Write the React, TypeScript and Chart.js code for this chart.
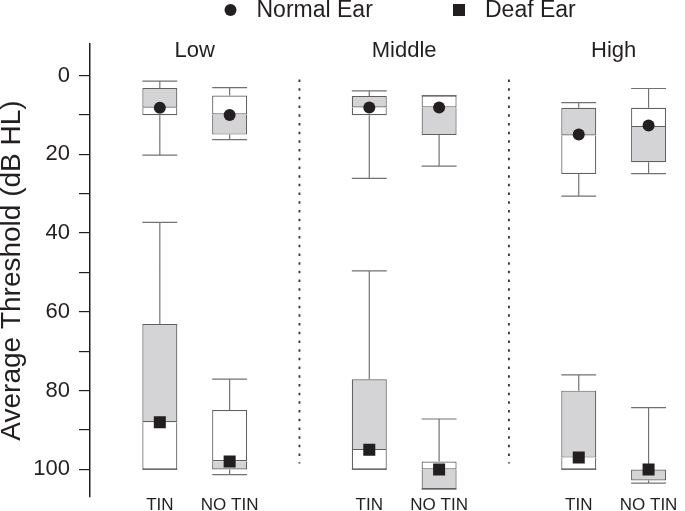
import React, { useEffect, useRef } from 'react';
import { Chart, registerables } from 'chart.js';

Chart.register(...registerables);

// ---- data (order: Low TIN, Low NO TIN, Middle TIN, Middle NO TIN, High TIN, High NO TIN)
const groups = ['Low', 'Middle', 'High'];
const conditions = ['TIN', 'NO TIN'];
const seriesNames = ['Normal Ear', 'Deaf Ear'];

const normalMin = [1.4, 3.1, 3.9, 5.1, 6.9, 3.3];
const normalQ1 = [3.2, 5.1, 5.2, 5.1, 8.2, 8.2];
const normalMedian = [8.2, 9.9, 8.1, 8.1, 15.2, 13.1];
const normalQ3 = [10.1, 15.0, 10.1, 15.1, 25.0, 22.0];
const normalMax = [20.2, 16.3, 26.1, 23.0, 30.6, 24.9];
const normalMean = [8.2, 10.0, 8.1, 8.1, 15.0, 12.7];

const deafMin = [37.3, 77.1, 49.6, 87.2, 76.0, 84.3];
const deafQ1 = [63.1, 84.9, 77.1, 98.0, 80.0, 100.0];
const deafMedian = [88.0, 97.9, 95.1, 100.0, 97.0, 100.0];
const deafQ3 = [100.0, 100.0, 100.0, 105.0, 100.0, 102.8];
const deafMax = [100.0, 101.3, 100.0, 105.0, 100.0, 103.5];
const deafMean = [88.0, 98.0, 95.0, 100.0, 97.0, 100.0];

const yTickValues = [0, 10, 20, 30, 40, 50, 60, 70, 80, 90, 100];
const yLabelValues = [0, 20, 40, 60, 80, 100];
const separatorSpan = [1, 98.5];

// ---- styles
const FONT = '"Liberation Sans", Arial, Helvetica, sans-serif';
const INK = '#231f20';
const GRAY = '#d4d4d6';
const WHITE = '#ffffff';
const BOX_LINE = '#606060';
const WHISKER = '#727272';
const BW = 1.2;

export default function App() {
  const ref = useRef<HTMLCanvasElement>(null);

  useEffect(() => {
    if (!ref.current) return;
    Chart.defaults.font.family = FONT;

    const xOf = (i: number) => Math.floor(i / 2) * 3 + (i % 2);

    const series = [
      { name: seriesNames[0], min: normalMin, q1: normalQ1, med: normalMedian, q3: normalQ3, max: normalMax, mean: normalMean, style: 'circle', radius: 6 },
      { name: seriesNames[1], min: deafMin, q1: deafQ1, med: deafMedian, q3: deafQ3, max: deafMax, mean: deafMean, style: 'rect', radius: 8.5 },
    ];

    const upper: any[] = [];
    const lower: any[] = [];
    const upperBg: string[] = [];
    const lowerBg: string[] = [];
    const lowerTopBorder: number[] = [];
    const whiskers: any[] = [];

    series.forEach((s) => {
      s.q1.forEach((_, i) => {
        const x = xOf(i);
        const tin = i % 2 === 0;
        upper.push({ x, y: [s.q1[i], s.med[i]] });
        upperBg.push(tin ? GRAY : WHITE);
        lower.push({ x, y: [s.med[i], s.q3[i]] });
        lowerBg.push(tin ? WHITE : GRAY);
        lowerTopBorder.push(s.q1[i] === s.med[i] ? BW : 0);
        // upper whisker + cap
        whiskers.push({ x, y: s.q1[i] }, { x, y: s.min[i] }, { x, y: null });
        whiskers.push({ x: x - 0.25, y: s.min[i] }, { x: x + 0.25, y: s.min[i] }, { x, y: null });
        // lower whisker + cap
        whiskers.push({ x, y: s.q3[i] }, { x, y: s.max[i] }, { x, y: null });
        whiskers.push({ x: x - 0.25, y: s.max[i] }, { x: x + 0.25, y: s.max[i] }, { x, y: null });
      });
    });

    const separators: any[] = [];
    for (let g = 0; g < groups.length - 1; g++) {
      const x = g * 3 + 2;
      separators.push({ x, y: separatorSpan[0] }, { x, y: separatorSpan[1] }, { x, y: null });
    }

    const markerSets = series.map((s) => ({
      type: 'scatter' as const,
      label: s.name,
      data: s.mean.map((m, i) => ({ x: xOf(i), y: m })),
      pointStyle: s.style as any,
      pointRadius: s.radius,
      pointHoverRadius: s.radius,
      backgroundColor: INK,
      borderColor: INK,
      borderWidth: 0,
      order: 0,
    }));

    const overlay = {
      id: 'overlayText',
      afterDraw(chart: any) {
        const { ctx, chartArea, scales } = chart;
        const xs = scales.x;
        ctx.save();
        ctx.fillStyle = INK;
        ctx.textBaseline = 'middle';
        ctx.textAlign = 'center';
        ctx.font = `22px ${FONT}`;
        groups.forEach((g, gi) => {
          ctx.fillText(g, xs.getPixelForValue(gi * 3 + 0.5), chartArea.top + 6.5);
        });
        // legend
        const legendX = [230.5, 459];
        const legendY = 10;
        series.forEach((s, k) => {
          const mx = legendX[k];
          ctx.fillStyle = INK;
          if (s.style === 'circle') {
            ctx.beginPath();
            ctx.arc(mx, legendY, s.radius, 0, Math.PI * 2);
            ctx.fill();
          } else {
            const half = s.radius * Math.SQRT1_2;
            ctx.fillRect(mx - half, legendY - half, half * 2, half * 2);
          }
          ctx.font = `23px ${FONT}`;
          ctx.textAlign = 'left';
          ctx.fillText(s.name, mx + 26, legendY + 0.5);
        });
        ctx.restore();
      },
    };

    const chart = new Chart(ref.current, {
      type: 'bar',
      data: {
        datasets: [
          {
            type: 'line',
            label: 'separators',
            data: separators,
            borderColor: '#333333',
            borderWidth: 1.8,
            borderDash: [2.5, 6.2],
            pointRadius: 0,
            spanGaps: false,
            order: 4,
          } as any,
          {
            type: 'line',
            label: 'whiskers',
            data: whiskers,
            borderColor: WHISKER,
            borderWidth: BW,
            pointRadius: 0,
            spanGaps: false,
            order: 3,
          } as any,
          {
            type: 'bar',
            label: 'upper',
            data: upper,
            backgroundColor: upperBg,
            borderColor: BOX_LINE,
            borderWidth: BW,
            borderSkipped: false,
            inflateAmount: 0,
            grouped: false,
            barThickness: 35,
            order: 2,
          } as any,
          {
            type: 'bar',
            label: 'lower',
            data: lower,
            backgroundColor: lowerBg,
            borderColor: BOX_LINE,
            borderWidth: (c: any) => ({ top: lowerTopBorder[c.dataIndex] ?? 0, left: BW, right: BW, bottom: BW }),
            borderSkipped: false,
            inflateAmount: 0,
            grouped: false,
            barThickness: 35,
            order: 2,
          } as any,
          ...(markerSets as any[]),
        ],
      },
      options: {
        animation: false,
        responsive: false,
        maintainAspectRatio: false,
        devicePixelRatio: 1,
        layout: { padding: { top: 44, right: 3, left: 0, bottom: 0 } },
        plugins: {
          legend: { display: false },
          tooltip: { enabled: false },
        },
        scales: {
          x: {
            type: 'linear',
            min: -1,
            max: 7.4,
            offset: false,
            grid: { display: false, drawTicks: false, offset: false },
            border: { display: false },
            afterBuildTicks: (s: any) => {
              const vals: number[] = [];
              groups.forEach((_, g) => conditions.forEach((__, c) => vals.push(g * 3 + c)));
              s.ticks = vals.map((v) => ({ value: v }));
            },
            ticks: {
              autoSkip: false,
              maxRotation: 0,
              minRotation: 0,
              padding: 0,
              color: INK,
              font: { size: 17, lineHeight: 1 },
              callback: (v: any) => conditions[Number(v) % 3],
            },
            afterFit: (s: any) => {
              s.height = 14;
              s.paddingLeft = 0;
              s.paddingRight = 0;
            },
          } as any,
          y: {
            type: 'linear',
            min: -8,
            max: 107,
            reverse: true,
            afterBuildTicks: (s: any) => {
              s.ticks = yTickValues.map((v) => ({ value: v }));
            },
            ticks: {
              color: INK,
              font: { size: 22 },
              padding: 9,
              autoSkip: false,
              callback: (v: any) => (yLabelValues.includes(Number(v)) ? String(v) : ''),
            },
            grid: {
              drawOnChartArea: false,
              drawTicks: true,
              tickLength: 11,
              color: INK,
              tickColor: INK,
              lineWidth: 1.2,
            },
            border: { display: true, color: INK, width: 1.5 },
            title: {
              display: true,
              text: 'Average Threshold (dB HL)',
              color: INK,
              font: { size: 28, lineHeight: 1 },
              padding: { top: -2, bottom: 0 },
            },
            afterFit: (s: any) => {
              s.width = 90;
              s.paddingTop = 0;
              s.paddingBottom = 0;
            },
          } as any,
        },
      },
      plugins: [overlay],
    });

    return () => chart.destroy();
  }, []);

  return (
    <div style={{ position: 'fixed', left: 0, top: 0, width: 685, height: 511, background: '#fff' }}>
      <canvas ref={ref} width={685} height={511} style={{ display: 'block' }} />
    </div>
  );
}
